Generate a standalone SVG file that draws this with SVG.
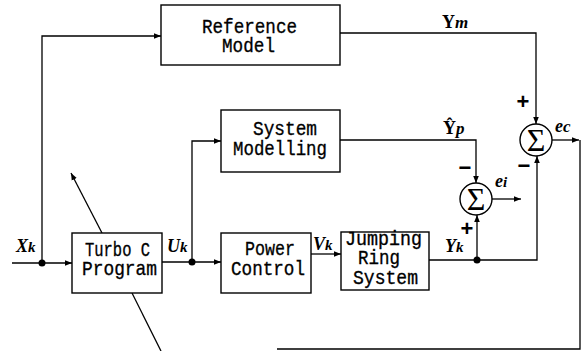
<svg xmlns="http://www.w3.org/2000/svg" width="587" height="351" viewBox="0 0 587 351">
  <style>
    .box { fill: #fff; stroke: #000; stroke-width: 1.4; }
    .wire { fill: none; stroke: #000; stroke-width: 1.3; }
    .arr { marker-end: url(#head); }
    .blk { font-family: "Liberation Mono", "DejaVu Sans Mono", monospace; font-size: 21px; fill: #000; stroke: #000; stroke-width: 0.35; }
    .sig { font-family: "Liberation Serif", "DejaVu Serif", serif; font-weight: bold; font-style: italic; font-size: 18px; fill: #000; }
    .sgn { font-family: "Liberation Sans", "DejaVu Sans", sans-serif; font-weight: bold; font-size: 22px; fill: #000; text-anchor: middle; }
    .sum { fill: #fff; stroke: #000; stroke-width: 1.4; }
    .sigma { font-family: "Liberation Serif", "DejaVu Serif", serif; font-size: 32px; fill: #000; text-anchor: middle; }
    .dot { fill: #000; }
  </style>
  <defs>
    <marker id="head" viewBox="0 0 10 10" refX="10" refY="5" markerWidth="7" markerHeight="7" markerUnits="userSpaceOnUse" orient="auto">
      <path d="M0,1 L10,5 L0,9 Z" fill="#000"/>
    </marker>
  </defs>

  <!-- connectors -->
  <g id="connectors">
    <path class="wire arr" d="M12,263 H72"/>
    <path class="wire arr" d="M42,263 V36 H161"/>
    <path class="wire arr" d="M162,262 H221"/>
    <path class="wire arr" d="M192,262 V141 H221"/>
    <path class="wire arr" d="M311,254 H341"/>
    <path class="wire arr" d="M429,260 H537 V156"/>
    <path class="wire arr" d="M477,260 V215"/>
    <path class="wire arr" d="M340,140 H476 V183"/>
    <path class="wire arr" d="M340,33 H536 V124"/>
    <path class="wire arr" d="M492,199 H521"/>
    <path class="wire arr" d="M552,140 H579"/>
    <path class="wire" d="M580,140 V349 H277"/>
    <!-- adjustment arrow passing behind the Turbo C block -->
    <path class="wire arr" d="M102,233 L71,173"/>
    <path class="wire" d="M132,293 L161,351"/>
    <circle class="dot" cx="42" cy="263" r="3.5"/>
    <circle class="dot" cx="192" cy="262" r="3.5"/>
    <circle class="dot" cx="477" cy="260" r="3.5"/>
  </g>

  <g id="reference-model">
    <rect class="box" x="161" y="5" width="179" height="60"/>
    <text class="blk" x="202" y="33" textLength="95" lengthAdjust="spacingAndGlyphs">Reference</text>
    <text class="blk" x="222" y="52" textLength="53" lengthAdjust="spacingAndGlyphs">Model</text>
  </g>

  <g id="system-modelling">
    <rect class="box" x="221" y="110" width="119" height="62"/>
    <text class="blk" x="253" y="135" textLength="64" lengthAdjust="spacingAndGlyphs">System</text>
    <text class="blk" x="233" y="155" textLength="94" lengthAdjust="spacingAndGlyphs">Modelling</text>
  </g>

  <g id="turbo-c">
    <rect class="box" x="72" y="233" width="90" height="60"/>
    <text class="blk" x="85" y="256" textLength="65" lengthAdjust="spacingAndGlyphs">Turbo C</text>
    <text class="blk" x="82" y="275" textLength="75" lengthAdjust="spacingAndGlyphs">Program</text>
  </g>

  <g id="power-control">
    <rect class="box" x="221" y="233" width="90" height="60"/>
    <text class="blk" x="245" y="255" textLength="50" lengthAdjust="spacingAndGlyphs">Power</text>
    <text class="blk" x="231" y="275" textLength="74" lengthAdjust="spacingAndGlyphs">Control</text>
  </g>

  <g id="jumping-ring">
    <rect class="box" x="341" y="232" width="88" height="58"/>
    <text class="blk" x="345" y="245" textLength="77" lengthAdjust="spacingAndGlyphs">Jumping</text>
    <text class="blk" x="358" y="264" textLength="42" lengthAdjust="spacingAndGlyphs">Ring</text>
    <text class="blk" x="353" y="284" textLength="65" lengthAdjust="spacingAndGlyphs">System</text>
  </g>

  <g id="sum-i">
    <circle class="sum" cx="476" cy="199" r="16"/>
    <text class="sigma" x="476" y="210">Σ</text>
  </g>

  <g id="sum-c">
    <circle class="sum" cx="536" cy="140" r="16"/>
    <text class="sigma" x="536" y="151">Σ</text>
  </g>

  <!-- signal labels -->
  <g id="labels">
    <text class="sig" x="16" y="252">X<tspan font-size="15">k</tspan></text>
    <text class="sig" x="167" y="252">U<tspan font-size="15">k</tspan></text>
    <text class="sig" x="313" y="250">V<tspan font-size="15">k</tspan></text>
    <text class="sig" x="445" y="252">Y<tspan font-size="15">k</tspan></text>
    <text class="sig" x="442" y="28"><tspan font-style="normal">Y</tspan><tspan font-size="17">m</tspan></text>
    <text class="sig" x="443" y="134"><tspan font-style="normal">Ŷ</tspan><tspan font-size="17">p</tspan></text>
    <text class="sig" x="495" y="187" font-size="21">e<tspan font-size="15">i</tspan></text>
    <text class="sig" x="555" y="132" font-size="21">e<tspan font-size="17">c</tspan></text>
    <text class="sgn" x="523" y="109">+</text>
    <text class="sgn" x="467" y="236">+</text>
    <text class="sgn" x="465" y="175">−</text>
    <text class="sgn" x="524" y="173">−</text>
  </g>
</svg>
